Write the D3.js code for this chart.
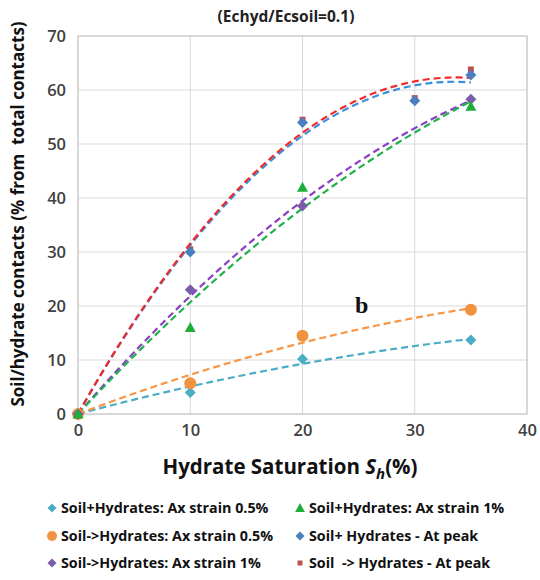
<!DOCTYPE html>
<html>
<head>
<meta charset="utf-8">
<script src="https://cdn.jsdelivr.net/npm/d3@7"></script>
<style>
  html, body { margin: 0; padding: 0; background: #fff; }
  svg { display: block; font-family: "Open Sans", "DejaVu Sans", sans-serif; }
</style>
</head>
<body>
<svg id="chart" width="540" height="580"></svg>
<script>
// Hydrate saturation (%) at which contacts were measured
const satAll = [0, 10, 20, 35];
const satPeak = [0, 10, 20, 30, 35];

// Contact percentages for each series
const soilPlusHyd05 = [0, 4.0, 10.2, 13.7];
const soilToHyd05 = [0, 5.7, 14.5, 19.3];
const soilToHyd1 = [0, 23.0, 38.5, 58.3];
const soilPlusHyd1 = [0, 16.0, 42.0, 57.0];
const soilPlusHydPeak = [0, 30.0, 54.0, 58.0, 62.8];
const soilToHydPeak = [0, 30.5, 54.5, 58.5, 63.8];

const xTicks = [0, 10, 20, 30, 40];
const yTicks = [0, 10, 20, 30, 40, 50, 60, 70];

const series = [
  { name: "Soil+Hydrates: Ax strain 0.5%", x: satAll, y: soilPlusHyd05, shape: "diamond", fill: "#4bacc6", line: "#4bacc6", size: 11 },
  { name: "Soil->Hydrates: Ax strain 0.5%", x: satAll, y: soilToHyd05, shape: "circle", fill: "#f0923e", line: "#f79646", size: 12 },
  { name: "Soil->Hydrates: Ax strain 1%", x: satAll, y: soilToHyd1, shape: "diamond", fill: "#7b5ca8", line: "#8a3fc4", size: 11 },
  { name: "Soil+Hydrates: Ax strain 1%", x: satAll, y: soilPlusHyd1, shape: "triangle", fill: "#1fae3a", line: "#22b14c", size: 10 },
  { name: "Soil+ Hydrates - At peak", x: satPeak, y: soilPlusHydPeak, shape: "diamond", fill: "#4a7fc0", line: "#3d8fdc", size: 11 },
  { name: "Soil  -> Hydrates - At peak", x: satPeak, y: soilToHydPeak, shape: "square", fill: "#c0504d", line: "#f02a2a", size: 6 }
];

// Legend layout order: two columns, three rows
const legendOrder = [
  [0, 3],
  [1, 4],
  [2, 5]
];

const svg = d3.select("#chart");
const plot = { left: 78, right: 527, top: 36, bottom: 414 };

const x = d3.scaleLinear().domain([0, 40]).range([plot.left, plot.right]);
const y = d3.scaleLinear().domain([0, 70]).range([plot.bottom, plot.top]);

// Gridlines
const grid = svg.append("g");
grid.selectAll("line.h").data(yTicks.slice(1, -1)).join("line")
  .attr("x1", plot.left).attr("x2", plot.right)
  .attr("y1", d => y(d)).attr("y2", d => y(d))
  .attr("stroke", "#d9d9d9").attr("stroke-width", 1);
grid.selectAll("line.v").data(xTicks.slice(1, -1)).join("line")
  .attr("y1", plot.top).attr("y2", plot.bottom)
  .attr("x1", d => x(d)).attr("x2", d => x(d))
  .attr("stroke", "#d9d9d9").attr("stroke-width", 1);

// Plot frame
svg.append("rect")
  .attr("x", plot.left).attr("y", plot.top)
  .attr("width", plot.right - plot.left).attr("height", plot.bottom - plot.top)
  .attr("fill", "none").attr("stroke", "#bfbfbf").attr("stroke-width", 1.2);

// Axes (labels only, ticks hidden)
const xAxis = svg.append("g")
  .attr("transform", `translate(0,${plot.bottom})`)
  .call(d3.axisBottom(x).tickValues(xTicks).tickSize(0).tickPadding(10));
const yAxis = svg.append("g")
  .attr("transform", `translate(${plot.left},0)`)
  .call(d3.axisLeft(y).tickValues(yTicks).tickSize(0).tickPadding(12));
[xAxis, yAxis].forEach(a => {
  a.select(".domain").remove();
  a.selectAll("text")
    .attr("font-family", "'Open Sans', sans-serif")
    .attr("font-size", 16.5).attr("font-weight", 600).attr("fill", "#404040");
});
xAxis.selectAll("text").attr("dy", "0.71em");

// Zero-intercept quadratic least-squares trendline (y = b x + c x^2)
function quadFit(xs, ys) {
  let s2 = 0, s3 = 0, s4 = 0, sxy = 0, sx2y = 0;
  xs.forEach((xi, i) => {
    const yi = ys[i];
    s2 += xi * xi; s3 += xi ** 3; s4 += xi ** 4;
    sxy += xi * yi; sx2y += xi * xi * yi;
  });
  const det = s2 * s4 - s3 * s3;
  const b = (sxy * s4 - s3 * sx2y) / det;
  const c = (s2 * sx2y - s3 * sxy) / det;
  return v => b * v + c * v * v;
}

const lineGen = d3.line().x(d => x(d[0])).y(d => y(d[1]));
series.forEach(s => {
  const f = quadFit(s.x, s.y);
  const xmax = d3.max(s.x);
  const pts = d3.range(0, xmax + 0.001, 0.5).map(v => [v, f(v)]);
  svg.append("path")
    .datum(pts)
    .attr("d", lineGen)
    .attr("fill", "none")
    .attr("stroke", s.line)
    .attr("stroke-width", 2.2)
    .attr("stroke-dasharray", "7,4");
});

// Markers
function symbolPath(shape, size) {
  if (shape === "diamond") {
    const r = size / 2;
    return `M0,${-r}L${r},0L0,${r}L${-r},0Z`;
  }
  if (shape === "circle") {
    const r = size / 2;
    return `M${r},0A${r},${r} 0 1,1 ${-r},0A${r},${r} 0 1,1 ${r},0Z`;
  }
  if (shape === "triangle") {
    const h = size;
    return `M0,${-h * 0.55}L${h * 0.55},${h * 0.45}L${-h * 0.55},${h * 0.45}Z`;
  }
  const r = size / 2;
  return `M${-r},${-r}H${r}V${r}H${-r}Z`;
}

// Draw order: peak series behind (red square drawn first), then others
const drawOrder = [5, 4, 0, 1, 2, 3];
drawOrder.forEach(i => {
  const s = series[i];
  svg.append("g").selectAll("path")
    .data(s.x.map((v, k) => [v, s.y[k]]))
    .join("path")
    .attr("d", symbolPath(s.shape, s.size))
    .attr("transform", d => `translate(${x(d[0])},${y(d[1])})`)
    .attr("fill", s.fill);
});

// Panel tag
svg.append("text")
  .attr("x", 355).attr("y", 313)
  .attr("font-family", "'Liberation Serif', serif")
  .attr("font-weight", "bold").attr("font-size", 24)
  .attr("fill", "#111")
  .text("b");

// Title
svg.append("text")
  .attr("x", 286).attr("y", 22)
  .attr("text-anchor", "middle")
  .attr("font-family", "'Open Sans', sans-serif")
  .attr("font-weight", "bold").attr("font-size", 15.5)
  .attr("fill", "#222")
  .text("(Echyd/Ecsoil=0.1)");

// Y axis title
svg.append("text")
  .attr("transform", `translate(24,214) rotate(-90)`)
  .attr("text-anchor", "middle")
  .attr("font-family", "'Open Sans', sans-serif")
  .attr("font-weight", "bold").attr("font-size", 17)
  .attr("fill", "#111")
  .attr("xml:space", "preserve")
  .text("Soil/hydrate contacts (% from  total contacts)");

// X axis title
const xt = svg.append("text")
  .attr("x", 290).attr("y", 474)
  .attr("text-anchor", "middle")
  .attr("font-family", "'Open Sans', sans-serif")
  .attr("font-weight", "bold").attr("font-size", 20.5)
  .attr("fill", "#111");
xt.append("tspan").text("Hydrate Saturation ");
xt.append("tspan").attr("font-style", "italic").text("S");
xt.append("tspan").attr("font-style", "italic").attr("font-size", 15).attr("dy", 5).text("h");
xt.append("tspan").attr("dy", -5).text("(%)");

// Legend
const legendRows = [508, 536, 563];
const legendCols = [52, 300];
legendOrder.forEach((row, r) => {
  row.forEach((si, c) => {
    const s = series[si];
    const g = svg.append("g")
      .attr("transform", `translate(${legendCols[c]},${legendRows[r]})`);
    const msize = s.shape === "square" ? 5 : (s.shape === "circle" ? 10 : 9);
    g.append("path")
      .attr("d", symbolPath(s.shape, msize))
      .attr("fill", s.fill);
    g.append("text")
      .attr("x", 9).attr("y", 0).attr("dy", "0.35em")
      .attr("font-family", "'Open Sans', sans-serif")
      .attr("font-weight", "bold").attr("font-size", 14.3)
      .attr("fill", "#111")
      .attr("xml:space", "preserve")
      .text(s.name);
  });
});
</script>
</body>
</html>
